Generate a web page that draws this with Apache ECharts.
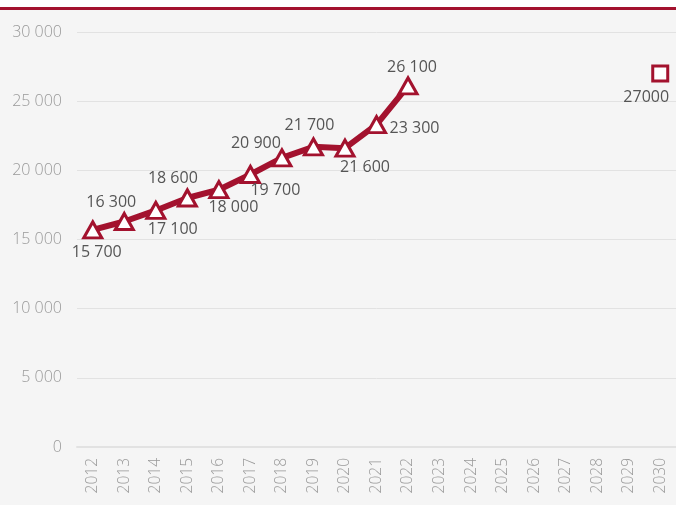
<!DOCTYPE html>
<html><head><meta charset="utf-8">
<script src="https://cdn.jsdelivr.net/npm/echarts@6/dist/echarts.min.js"></script>
<style>html,body{margin:0;padding:0;background:#f5f5f5}#c{width:676px;height:505px}</style>
</head><body><div id="c"></div>
<script>
const years = ['2012','2013','2014','2015','2016','2017','2018','2019','2020','2021','2022','2023','2024','2025','2026','2027','2028','2029','2030'];
const actual = [15700,16300,17100,18000,18600,19700,20900,21700,21600,23300,26100];
const targetYear = '2030';
const targetValue = 27000;
const yTicks = [0,5000,10000,15000,20000,25000,30000];
// label placement offsets (dx, dy) per actual point
const labelOffsets = [[4,23],[-13,-19],[17,19],[46,9],[-46,-11],[25,16],[-26,-14],[-4,-21],[20,19],[38,4],[4,-19]];

const RED = '#a3122e';
const fmt = v => String(v).replace(/\B(?=(\d{3})+(?!\d))/g, ' ');

const actualData = actual.map((v,i)=>({
  value: v,
  label: {offset: labelOffsets[i]}
}));
const targetData = years.map(y => y === targetYear ? {value: targetValue, label:{offset:[-14,24]}} : null);

const chart = echarts.init(document.getElementById('c'), null, {renderer:'canvas'});
chart.setOption({
  backgroundColor: '#f5f5f5',
  animation: false,
  graphic: [
    {type:'rect', shape:{x:0,y:0,width:676,height:7}, style:{fill:'#ffffff'}, z:100},
    {type:'rect', shape:{x:0,y:7,width:676,height:3}, style:{fill:RED}, z:100}
  ],
  grid: {left:77, right:0, top:32, bottom:58, containLabel:false},
  xAxis: {
    type:'category', data: years, boundaryGap:true,
    axisLine:{show:true, lineStyle:{color:'#e2e2e2', width:2}},
    axisTick:{show:false},
    axisLabel:{rotate:90, color:'#999999', fontFamily:'Open Sans', fontWeight:300, fontSize:15.5, margin:11, interval:0}
  },
  yAxis: {
    type:'value', min:yTicks[0], max:yTicks[yTicks.length-1], interval:5000,
    axisLine:{show:false}, axisTick:{show:false},
    splitLine:{lineStyle:{color:'#e2e2e2', width:1}},
    axisLabel:{color:'#999999', fontFamily:'Open Sans', fontWeight:300, fontSize:16, margin:15, formatter: v=>fmt(v)}
  },
  series: [
    {
      type:'line', data: actualData,
      lineStyle:{color:RED, width:6},
      symbol:'triangle', symbolSize:[18,16], showAllSymbol:true,
      itemStyle:{color:'#ffffff', borderColor:RED, borderWidth:3},
      label:{show:true, position:'inside', color:'#555555', fontFamily:'Open Sans', fontSize:16, formatter:p=>fmt(p.value)},
      z:3
    },
    {
      type:'line', data: targetData, connectNulls:false,
      lineStyle:{width:0},
      symbol:'rect', symbolSize:15, showAllSymbol:true,
      itemStyle:{color:'#ffffff', borderColor:RED, borderWidth:3},
      label:{show:true, position:'inside', color:'#555555', fontFamily:'Open Sans', fontSize:16, formatter:p=>String(p.value)},
      z:3
    }
  ]
});
</script></body></html>
